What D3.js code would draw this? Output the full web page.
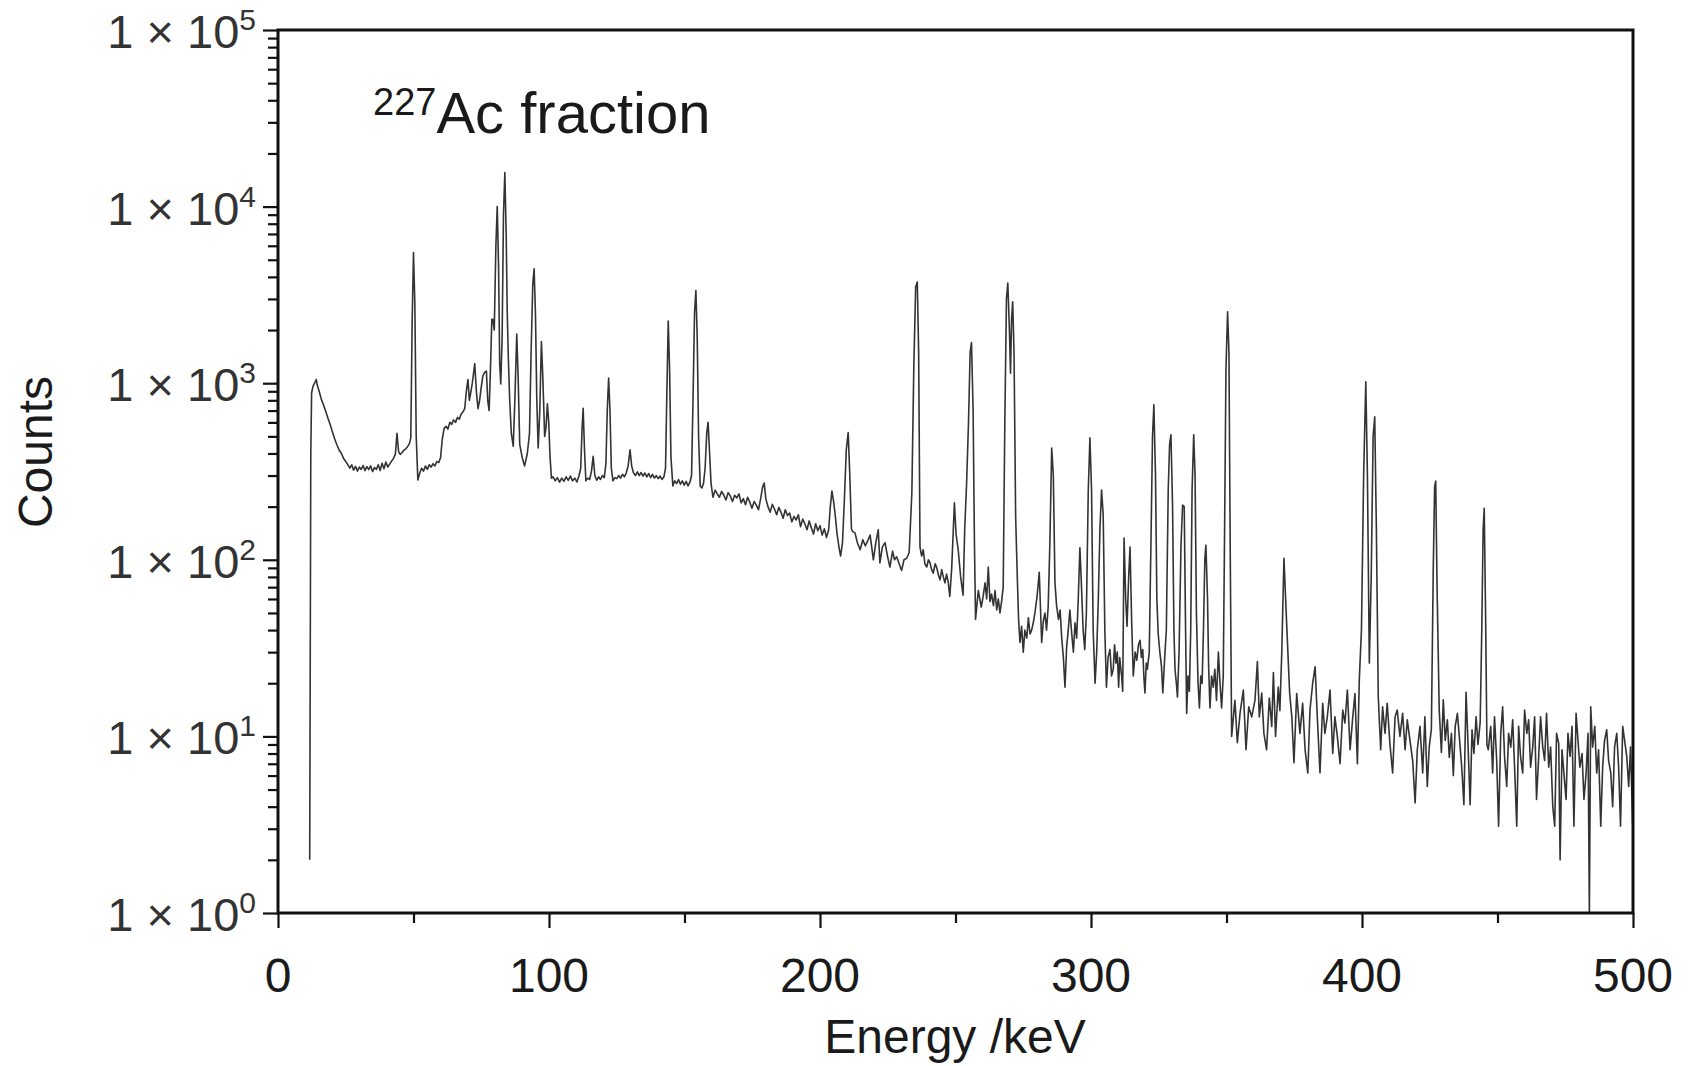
<!DOCTYPE html>
<html lang="en">
<head>
    <meta charset="UTF-8">
    <title>227Ac fraction gamma spectrum</title>
    <script src="https://d3js.org/d3.v7.min.js"></script>
    <style>
        body {
            margin: 0;
            background: #fff;
        }
        svg text {
            font-family: "Liberation Sans", Arial, sans-serif;
            fill: #1a1a1a;
        }
        .spectrum {
            fill: none;
            stroke: #333;
            stroke-width: 1.6px;
            stroke-linejoin: round;
        }
    </style>
</head>
<body>
    <div id="chart"></div>

    <script>
        // tick values
        const xMajorTicks = [0, 100, 200, 300, 400, 500];
        const xMinorTicks = [50, 150, 250, 350, 450];
        const yExponents = [0, 1, 2, 3, 4, 5];

        // spectrum, [energy keV, counts]
        const lowEnergy = [
            [11.7,2.0],[12.1,400],[12.4,880],[12.9,960],[13.5,1000],[14.1,1050],[14.6,960],[15.2,900],[16.0,810],[16.7,760],
            [17.5,700],[18.5,630],[19.3,580],[20.1,530],[20.9,485],[21.7,450],[22.5,420],[23.4,400],[24.2,375],[25.0,360],
            [25.8,345],[26.5,330],[27.2,345],[27.9,322],[28.6,338],[29.3,318],[30.0,335],[30.7,325],[31.4,342],[32.1,320],
            [32.8,337],[33.5,324],[34.2,340],[34.9,316],[35.6,333],[36.3,325],[37.0,345],[37.7,320],[38.4,352],[39.1,328],
            [39.8,358],[40.5,335],[41.2,348],[41.9,362],[42.6,375],[43.3,395],[43.9,520],[44.5,410],[45.1,395],[45.8,405],
            [46.5,418],[47.2,425],[47.9,440],[48.5,455],[49.0,490],[49.5,2200],[50.0,5500],[50.5,2800],[51.0,500],[51.6,283],
            [52.3,310],[53.0,330],[53.7,318],[54.4,340],[55.1,325],[55.8,345],[56.5,335],[57.2,350],[57.9,340],[58.6,360],
            [59.3,355],[60.0,380],[60.6,480],[61.3,555],[62.0,570],[62.7,550],[63.4,600],[64.1,585],[64.8,620],[65.5,600],
            [66.2,640],[66.9,625],[67.6,670],[68.3,690],[68.9,718],[69.5,900],[70.1,1050],[70.6,800],[71.1,880],[71.7,1000],
            [72.2,1150],[72.6,1290],[73.2,900],[73.8,718],[74.4,800],[75.0,950],[75.6,1100],[76.2,1150],[76.9,1170],[77.4,800],
            [77.9,700],[78.4,1200],[78.9,2300],[79.3,2300],[79.8,2000],[80.4,6000],[80.9,10000],[81.4,4500],[81.8,1300],[82.2,990],
            [82.7,1800],[83.2,9000],[83.7,15600],[84.2,7000],[84.6,2500],[85.0,1380],[85.5,800],[86.1,520],[86.8,440],[87.4,800],
            [88.1,1900],[88.6,1100],[89.2,450],[90.1,380],[91.0,340],[92.0,400],[92.8,520],[93.4,1500],[94.0,3600],[94.5,4450],
            [95.0,2500],[95.5,800],[96.0,430],[96.6,700],[97.2,1720],[97.7,1100],[98.4,500],[98.9,560],[99.4,765],[99.9,600],
            [100.4,380],[100.9,290],[101.5,295]
        ];

        const midEnergy = [
            [102.3,280],[103.1,292],[103.9,275],[104.7,290],[105.5,278],[106.3,295],[107.1,282],[107.9,298],[108.7,280],[109.5,290],
            [110.3,276],[111.1,300],[111.7,330],[112.2,550],[112.6,720],[113.1,420],[113.6,280],[114.3,290],[115.0,285],[115.7,320],
            [116.3,385],[116.9,300],[117.6,282],[118.3,295],[119.0,285],[119.7,300],[120.4,292],[121.0,350],[121.5,700],[122.0,1070],
            [122.5,700],[123.0,330],[123.6,280],[124.3,292],[125.0,288],[125.7,300],[126.4,290],[127.1,305],[127.8,295],[128.5,310],
            [129.2,340],[129.9,420],[130.5,340],[131.2,310],[131.9,300],[132.6,315],[133.3,300],[134.0,312],[134.7,298],[135.4,310],
            [136.1,295],[136.8,308],[137.5,292],[138.2,305],[138.9,290],[139.6,300],[140.3,288],[141.0,298],[141.7,285],[142.4,295],
            [143.0,330],[143.5,900],[144.0,2250],[144.5,1200],[145.0,380],[145.7,262],[146.4,280],[147.1,270],[147.8,285],[148.5,268],
            [149.2,280],[149.9,265],[150.6,278],[151.3,262],[152.0,275],[152.6,300],[153.2,900],[153.7,2500],[154.2,3350],[154.7,1800],
            [155.2,500],[155.8,262],[156.4,255],[157.0,270],[157.6,330],[158.2,520],[158.7,600],[159.2,420],[159.8,270],[160.5,226],
            [161.3,248],[162.1,236],[162.9,226],[163.7,244],[164.5,232],[165.3,218],[166.1,240],[166.9,230],[167.7,214],[168.5,232],
            [169.3,224],[170.1,236],[170.9,210],[171.7,222],[172.5,205],[173.3,226],[174.1,212],[174.9,196],[175.7,214],[176.5,204],
            [177.3,192],[178.1,222],[178.8,258],[179.4,272],[180.0,222],[180.8,200],[181.6,186],[182.4,206],[183.2,194],[184.0,180],
            [184.8,198],[185.6,186],[186.4,172],[187.2,192],[188.0,178],[188.8,184],[189.6,164],[190.4,176],[191.2,168],[192.0,180],
            [192.8,154],[193.6,170],[194.4,160],[195.2,148],[196.0,166],[196.8,152],[197.6,140],[198.4,160],[199.2,146],[200.0,156],
            [200.8,138],[201.6,150],[202.4,134],[203.2,148],[203.8,200],[204.4,245],[205.0,215],[205.6,180],[206.3,140],[207.0,118],
            [207.6,105],[208.3,125],[209.0,220],[209.7,420],[210.4,525],[211.0,300],[211.6,150]
        ];

        const upperEnergy = [
            [212.0,145],[212.9,142],[213.8,125],[214.8,114],[215.8,130],[216.7,120],[217.6,128],[218.5,138],[219.7,100],[220.6,125],
            [221.5,148],[222.1,96],[223.0,118],[224.0,125],[224.9,105],[225.8,91],[226.8,112],[227.5,100],[228.3,104],[229.2,95],
            [230.1,87],[231.0,100],[232.0,102],[232.9,110],[233.9,240],[234.6,1200],[235.3,3500],[235.9,3740],[236.4,1500],[236.9,118],
            [237.5,105],[238.1,114],[238.7,95],[239.4,91],[240.0,100],[240.6,96],[241.2,88],[241.8,84],[242.5,95],[243.1,90],
            [243.7,82],[244.3,77],[244.9,88],[245.5,80],[246.1,74],[246.7,83],[247.3,75],[247.9,62],[248.6,90],[249.2,150],
            [249.6,210],[250.2,140],[251.0,114],[251.9,80],[252.8,63],[253.4,150],[254.1,272],[254.8,600],[255.4,1500],[255.9,1700],
            [256.5,700],[257.0,120],[257.4,46],[258.4,67],[259.5,54],[260.2,62],[260.9,74],[261.5,60],[262.1,91],[262.7,58],
            [263.3,64],[264.0,55],[264.6,67],[265.2,52],[265.8,60],[266.4,50],[267.0,58],[267.6,70],[268.2,600],[268.8,3000],
            [269.3,3690],[269.9,2000],[270.3,1140],[270.7,2300],[271.1,2890],[271.6,1500],[272.2,174],[272.8,80],[273.3,45],[273.8,34],
            [274.4,42],[275.0,30],[275.6,40],[276.3,36],[276.9,47],[277.5,38],[278.1,40],[278.7,44],[279.3,50],[280.1,62],
            [280.9,85],[281.8,34],[282.4,45],[283.0,50],[283.6,40],[284.2,54],[284.8,120],[285.5,430],[286.1,300],[286.7,74],
            [287.3,55],[288.0,46],[288.6,52],[289.2,36],[289.8,28],[290.4,19],[291.0,32],[291.6,40],[292.2,52],[292.9,38],
            [293.5,30],[294.1,44],[294.7,36],[295.3,60],[295.9,117],[296.5,70],[297.1,40],[297.7,31],[298.3,50],[299.0,250],
            [299.6,490],[300.2,250],[300.8,40],[301.5,20],[302.1,30],[302.7,60],[303.3,150],[303.9,248],[304.5,180],[305.1,40],
            [305.7,19],[306.3,28],[307.0,31],[307.6,22],[308.2,24],[308.7,33],[309.2,26],[309.7,30],[310.2,19],[310.6,28],
            [310.9,25],[311.3,22],[311.7,18],[312.2,133],[312.8,60],[313.3,42],[313.9,80],[314.4,118],[315.0,45],[315.6,22],
            [316.3,30],[316.9,27],[317.5,33],[318.1,35],[318.6,28],[319.1,31],[319.5,22],[319.9,17.6],[320.4,26],[320.8,24],
            [321.5,30],[322.2,150],[322.7,500],[323.2,755],[323.8,300],[324.3,60],[324.8,38],[325.4,30],[326.0,25],[326.5,17.6],
            [327.2,28],[327.8,40],[328.5,250],[329.0,450],[329.5,510],[330.1,200],[330.6,40],[331.0,24],[331.5,20],[331.9,16.7],
            [332.5,30],[333.2,120],[333.8,204],[334.4,200],[334.9,40],[335.3,13.5],[335.8,22],[336.3,18],[336.8,40],[337.3,250],
            [337.9,510],[338.4,300],[338.9,50],[339.5,20],[340.0,14.5],[340.5,22],[341.0,20],[341.5,40],[342.0,100],[342.4,121],
            [343.0,60],[343.4,25],[343.9,14.5],[344.5,22],[345.1,19],[345.7,24],[346.3,16],[347.0,30],[347.6,20],[348.2,14.5],
            [348.8,22],[349.3,150],[349.8,1200],[350.4,2540],[350.9,1500],[351.4,100],[351.9,10]
        ];

        const highEnergy = [
            [353.1,16],[354.0,9.2],[355.0,13.5],[356.2,18.3],[357.2,8.4],[358.2,14.7],[359.3,12.9],[360.5,16],[361.4,26.5],[362.1,12.9],
            [363.0,17.6],[363.8,10.4],[364.8,8.4],[365.8,16.5],[366.7,11.4],[367.3,23],[368.1,10],[369.1,19],[369.7,14],[370.4,30],
            [371.2,102],[371.8,61],[372.3,40],[373.3,17.6],[374.1,12.9],[374.9,7.1],[375.9,17.5],[377.1,10.4],[378.1,15.4],[379.0,8.4],
            [380.0,6.2],[380.8,14.1],[381.8,20],[382.7,24.8],[383.5,12.9],[384.5,6.2],[385.5,15.4],[386.3,10.4],[387.2,12.9],[388.2,18.3],
            [389.2,8.0],[390.0,12.9],[390.9,10],[391.9,7.0],[392.9,14.1],[393.7,11.9],[394.6,18.3],[395.6,8.4],[396.6,12.9],[397.4,17.5],
            [398.3,7.0],[399.0,20.9],[399.8,40],[400.6,300],[401.4,1020],[402.0,300],[402.7,26],[403.4,80],[404.1,500],[404.7,646],
            [405.3,150],[406.0,16.8],[406.9,8.4],[407.6,14.7],[408.5,10.4],[409.3,15.4],[410.3,9.1],[411.3,6.2],[412.2,12.9],[413.0,14.1],
            [414.0,10],[415.0,13.5],[415.9,8.4],[416.7,12.4],[417.7,9.5],[418.7,7.3],[419.6,4.2],[420.4,8.4],[421.4,11.4],[422.4,6.2],
            [423.2,12.9],[424.1,5.2],[424.8,8.7],[425.6,11],[426.3,90],[426.8,260],[427.2,279],[427.7,70],[428.5,14.1],[429.3,8.1],
            [430.0,16.1],[430.7,9.5],[431.5,12.4],[432.2,7.6],[433.0,10.4],[433.7,6.0],[434.4,11.4],[435.2,13.5],[435.9,10],[436.8,6.7],
            [437.6,4.1],[438.4,17.8],[439.1,9.2],[439.9,4.1],[440.6,10.9],[441.3,8.0],[442.1,12.9],[442.8,9],[443.6,12],[444.2,40],
            [444.7,150],[445.1,196],[445.6,50],[446.1,9],[446.6,8.4],[447.5,11.4],[448.2,6.2],[448.9,12.9],[449.7,7.3],[450.4,3.1],
            [451.2,10.4],[451.9,14.7],[452.6,7.7],[453.4,5.2],[454.1,10.4],[454.9,8.7],[455.6,12.4],[456.3,6.7],[457.1,3.1],[457.8,11.4],
            [458.5,7.7],[459.3,6.2],[460.0,14.1],[460.8,10.4],[461.5,12.4],[462.2,6.7],[463.0,8.7],[463.7,12.9],[464.4,4.4],[465.2,7.7],
            [465.9,12.9],[466.7,8.7],[467.4,7.3],[468.1,13.5],[468.9,6.7],[469.6,8.7],[470.4,4.0],[471.1,3.1],[471.8,10.4],[472.6,9.1],
            [473.1,2.0],[473.8,8.4],[474.5,6.2],[475.3,4.4],[476.0,10.4],[476.8,7.7],[477.5,11.4],[478.2,3.1],[479.0,13.5],[479.7,9.5],
            [480.4,6.7],[481.2,8.0],[481.9,4.4],[482.7,6.2],[483.4,10.4],[483.9,1.0],[484.4,14.7],[485.1,8.7],[485.9,11.4],[486.6,6.2],
            [487.3,8.4],[488.1,3.1],[488.8,6.7],[489.5,9.5],[490.3,10.9],[491.0,7.3],[491.8,6.2],[492.5,4.0],[493.2,8.7],[494.0,10.4],
            [494.7,6.7],[495.4,3.1],[496.2,11.4],[496.9,9.5],[497.7,7.7],[498.4,5.2],[499.1,8.7],[499.9,3.1]
        ];

        const spectrum = lowEnergy.concat(midEnergy, upperEnergy, highEnergy);

        const width = 1688, height = 1066;
        const plot = {left: 278, right: 1633, top: 30, bottom: 913};

        const svg = d3.select("#chart")
            .append("svg")
            .attr("width", width)
            .attr("height", height);

        const x = d3.scaleLinear().domain([0, 500]).range([plot.left, plot.right]);
        const y = d3.scaleLog().domain([1, 1e5]).range([plot.bottom, plot.top]);

        svg.append("clipPath")
            .attr("id", "plot-clip")
            .append("rect")
            .attr("x", plot.left)
            .attr("y", plot.top)
            .attr("width", plot.right - plot.left)
            .attr("height", plot.bottom - plot.top);

        // the spectrum
        const line = d3.line()
            .x(d => x(d[0]))
            .y(d => y(d[1]));

        svg.append("path")
            .datum(spectrum)
            .attr("class", "spectrum")
            .attr("clip-path", "url(#plot-clip)")
            .attr("d", line);

        // x axis: major and minor ticks
        svg.append("g")
            .attr("transform", `translate(0,${plot.bottom})`)
            .call(d3.axisBottom(x).tickValues(xMajorTicks).tickSize(15).tickFormat(""));
        svg.append("g")
            .attr("transform", `translate(0,${plot.bottom})`)
            .call(d3.axisBottom(x).tickValues(xMinorTicks).tickSize(10).tickFormat(""));

        // y axis: decades and minor ticks 2..9
        const yMinor = [];
        yExponents.slice(0, -1).forEach(e => {
            for (let m = 2; m <= 9; m++) yMinor.push(m * Math.pow(10, e));
        });
        const yMajor = yExponents.map(e => Math.pow(10, e));

        svg.append("g")
            .attr("transform", `translate(${plot.left},0)`)
            .call(d3.axisLeft(y).tickValues(yMajor).tickSize(15).tickFormat(""));
        svg.append("g")
            .attr("transform", `translate(${plot.left},0)`)
            .call(d3.axisLeft(y).tickValues(yMinor).tickSize(10).tickFormat(""));

        svg.selectAll(".domain").remove();
        svg.selectAll(".tick line")
            .attr("stroke", "#111")
            .attr("stroke-width", 2.2);

        // frame
        svg.append("rect")
            .attr("x", plot.left)
            .attr("y", plot.top)
            .attr("width", plot.right - plot.left)
            .attr("height", plot.bottom - plot.top)
            .attr("fill", "none")
            .attr("stroke", "#111")
            .attr("stroke-width", 3);

        // x tick labels
        svg.append("g")
            .selectAll("text")
            .data(xMajorTicks)
            .join("text")
            .attr("x", d => x(d))
            .attr("y", 992)
            .attr("text-anchor", "middle")
            .style("font-size", "48px")
            .text(d => d);

        // y tick labels, 1 × 10^n
        const yLabels = svg.append("g")
            .selectAll("text")
            .data(yExponents)
            .join("text")
            .attr("x", 256)
            .attr("y", d => y(Math.pow(10, d)) + 18)
            .attr("text-anchor", "end")
            .style("font-size", "47px")
            .style("fill", "#333");
        yLabels.append("tspan").text("1 \u00d7 10");
        yLabels.append("tspan")
            .attr("dy", -18)
            .style("font-size", "30px")
            .text(d => d);

        // axis titles
        svg.append("text")
            .attr("x", 955)
            .attr("y", 1053)
            .attr("text-anchor", "middle")
            .style("font-size", "48px")
            .text("Energy /keV");

        svg.append("text")
            .attr("transform", "translate(52,452) rotate(-90)")
            .attr("text-anchor", "middle")
            .style("font-size", "48px")
            .text("Counts");

        // label inside the plot
        const label = svg.append("text")
            .attr("x", 373)
            .attr("y", 133)
            .style("font-size", "58px");
        label.append("tspan")
            .attr("dy", -18)
            .style("font-size", "38px")
            .text("227");
        label.append("tspan")
            .attr("dy", 18)
            .text("Ac fraction");
    </script>
</body>
</html>
